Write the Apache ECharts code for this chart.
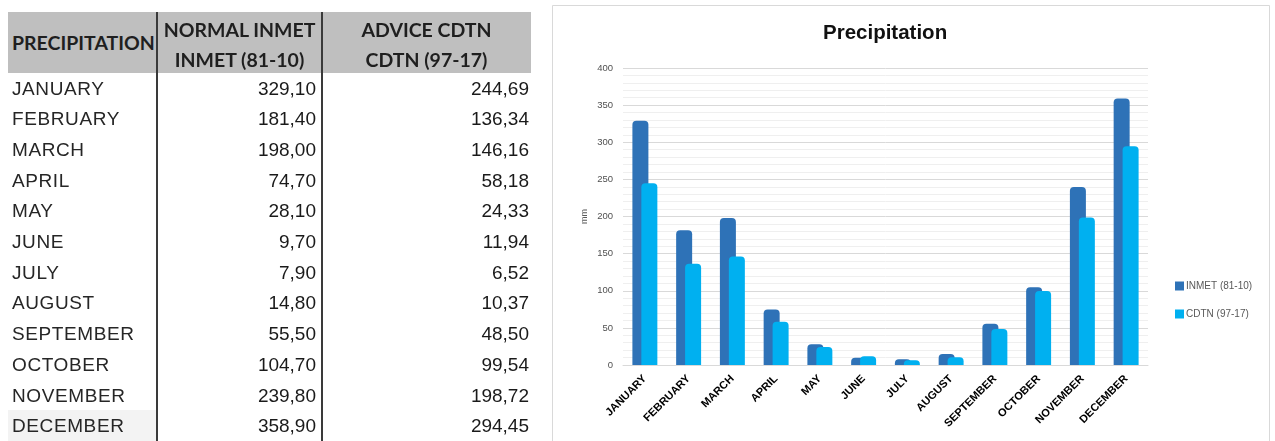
<!DOCTYPE html>
<html><head><meta charset="utf-8">
<script src="https://cdn.jsdelivr.net/npm/echarts@6.0.0/dist/echarts.min.js"></script>
<style>
html,body{margin:0;padding:0;background:#fff;width:1275px;height:441px;overflow:hidden;}
#chart{position:absolute;left:0;top:0;width:1275px;height:441px;}
#tbl{position:absolute;left:0;top:0;width:545px;height:441px;}
#tbl div{position:absolute;white-space:nowrap;}
.hd{font-family:Lato,"Open Sans",sans-serif;font-weight:bold;font-size:19.5px;color:#1f1f1f;line-height:30px;text-align:center;}
.mo{font-family:"Liberation Sans",Arial,sans-serif;font-size:19px;letter-spacing:0.6px;color:#262626;left:12px;}
.nu{font-family:"Liberation Sans",Arial,sans-serif;font-size:19px;color:#1a1a1a;text-align:right;}
</style>
</head><body>
<div id="chart"></div>
<div id="tbl"></div>
<script>
var months = ['JANUARY','FEBRUARY','MARCH','APRIL','MAY','JUNE','JULY','AUGUST','SEPTEMBER','OCTOBER','NOVEMBER','DECEMBER'];
var inmet = [329.10,181.40,198.00,74.70,28.10,9.70,7.90,14.80,55.50,104.70,239.80,358.90];
var cdtn = [244.69,136.34,146.16,58.18,24.33,11.94,6.52,10.37,48.50,99.54,198.72,294.45];
var seriesNames = ['INMET (81-10)','CDTN (97-17)'];
var headers = [['PRECIPITATION'],['NORMAL INMET','INMET (81-10)'],['ADVICE CDTN','CDTN (97-17)']];
var yTicks = {min:0, max:400, interval:50};

// ---- table ----
var tb = document.getElementById('tbl');
function add(cls, style, text){
  var d = document.createElement('div');
  if(cls) d.className = cls;
  d.setAttribute('style', style);
  if(text!==undefined) d.textContent = text;
  tb.appendChild(d);
  return d;
}
add('', 'left:8px;top:12px;width:523px;height:61px;background:#bfbfbf;');
add('', 'left:8px;top:410px;width:148px;height:31px;background:#f3f3f3;');
add('hd', 'left:8px;top:27.5px;width:149px;text-align:left;padding-left:4px;', headers[0][0]);
add('hd', 'left:157px;top:15px;width:165px;', headers[1][0]);
add('hd', 'left:157px;top:45px;width:165px;', headers[1][1]);
add('hd', 'left:322px;top:15px;width:209px;', headers[2][0]);
add('hd', 'left:322px;top:45px;width:209px;', headers[2][1]);
function fmt(v){ return v.toFixed(2).replace('.', ','); }
var rowH = 30.7;
for (var i=0;i<months.length;i++){
  var rowTop = 73.5 + i*rowH;
  var s = 'top:'+rowTop+'px;height:'+rowH+'px;line-height:'+rowH+'px;';
  add('mo', s, months[i]);
  add('nu', s+'left:160px;width:156px;', fmt(inmet[i]));
  add('nu', s+'left:330px;width:199px;', fmt(cdtn[i]));
}
add('', 'left:156px;top:12px;width:2px;height:429px;background:#3a3a3a;');
add('', 'left:321px;top:12px;width:2px;height:429px;background:#3a3a3a;');

// ---- chart ----
var chart = echarts.init(document.getElementById('chart'));
chart.setOption({
  backgroundColor: 'transparent',
  animation: false,
  graphic: [{
    type: 'rect', shape: {x: 552.5, y: 5.5, width: 717, height: 440},
    style: {fill: '#fff', stroke: '#d9d9d9', lineWidth: 1}, z: -10
  }],
  title: {
    text: 'Precipitation', left: 818, top: 18,
    textStyle: {fontFamily: 'Liberation Sans, Arial, sans-serif', fontSize: 20.5, fontWeight: 'bold', color: '#111'}
  },
  legend: {
    orient: 'vertical', left: 1170, top: 276, icon: 'rect',
    itemWidth: 9, itemHeight: 9, itemGap: 18,
    textStyle: {fontFamily: 'Liberation Sans, Arial, sans-serif', fontSize: 10, color: '#595959', padding: [0,0,0,-3]},
    data: seriesNames
  },
  grid: {left: 623, right: 127, top: 68, bottom: 76, containLabel: false, outerBoundsMode: 'none'},
  xAxis: {
    type: 'category', data: months,
    axisLine: {lineStyle: {color: '#d9d9d9'}},
    axisTick: {show: false},
    axisLabel: {rotate: 45, interval: 0, margin: 12, fontFamily: 'Liberation Sans, Arial, sans-serif', fontSize: 11, fontWeight: 'bold', color: '#000'}
  },
  yAxis: {
    type: 'value', min: yTicks.min, max: yTicks.max, interval: yTicks.interval,
    name: 'mm', nameLocation: 'middle', nameGap: 34,
    nameTextStyle: {fontFamily: 'Liberation Sans, Arial, sans-serif', fontSize: 9, color: '#595959'},
    axisLine: {show: false}, axisTick: {show: false},
    axisLabel: {margin: 10, fontFamily: 'Liberation Sans, Arial, sans-serif', fontSize: 9.5, color: '#505050'},
    splitLine: {lineStyle: {color: '#d9d9d9'}},
    minorTick: {show: false, splitNumber: 5},
    minorSplitLine: {show: true, lineStyle: {color: '#efefef'}}
  },
  series: [
    {name: seriesNames[0], type: 'bar', data: inmet, barWidth: 16, barGap: '-44%',
     itemStyle: {color: '#2e72b7', borderRadius: [4,4,0,0]}},
    {name: seriesNames[1], type: 'bar', data: cdtn, barWidth: 16,
     itemStyle: {color: '#00b0f0', borderRadius: [4,4,0,0]}}
  ]
});
</script>
</body></html>
